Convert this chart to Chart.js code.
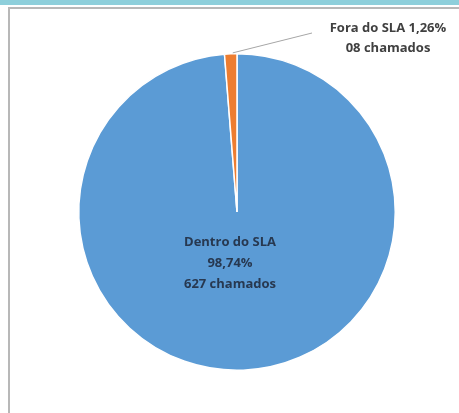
<!DOCTYPE html>
<html>
<head>
<meta charset="utf-8">
<script src="https://cdn.jsdelivr.net/npm/chart.js@4.4.1/dist/chart.umd.min.js"></script>
<style>
  html, body { margin: 0; padding: 0; background: #fff; }
  #wrap { position: relative; width: 459px; height: 413px; overflow: hidden; }
  #topbar { position: absolute; left: 0; top: 0; width: 459px; height: 5px; background: #8ecfdb; }
  #frame { position: absolute; left: 8px; top: 7px; width: 460px; height: 420px;
           border-left: 2px solid #b8b8b8; border-top: 2px solid #b8b8b8; }
  canvas { position: absolute; left: 0; top: 0; }
</style>
</head>
<body>
<div id="wrap">
  <div id="topbar"></div>
  <div id="frame"></div>
  <canvas id="chart" width="459" height="413"></canvas>
</div>
<script>
const categories = ["Dentro do SLA", "Fora do SLA"];
const chamados = [627, 8];
const sliceColors = ["#5b9bd5", "#ed7d31"];

const total = chamados.reduce((a, b) => a + b, 0);
const pct = (v) => (v / total * 100).toFixed(2).replace(".", ",") + "%";
const countText = (v) => String(v).padStart(2, "0") + " chamados";

const labelFont = 'bold 13px "Open Sans", "Noto Sans", sans-serif';

const sliceLabels = {
  id: "sliceLabels",
  afterDatasetsDraw(chart) {
    const ctx = chart.ctx;
    const arcs = chart.getDatasetMeta(0).data;
    ctx.save();
    ctx.font = labelFont;
    ctx.textAlign = "center";
    ctx.textBaseline = "middle";

    // big slice: label inside, below the centre
    const a0 = arcs[0];
    ctx.fillStyle = "#273850";
    const cx = a0.x - 7, cy = a0.y;
    ctx.fillText(categories[0], cx, cy + 30);
    ctx.fillText(pct(chamados[0]), cx, cy + 51);
    ctx.fillText(countText(chamados[0]), cx, cy + 72);

    // small slice: label outside with a leader line
    const a1 = arcs[1];
    const mid = (a1.startAngle + a1.endAngle) / 2;
    const px = a1.x + Math.cos(mid) * a1.outerRadius;
    const py = a1.y + Math.sin(mid) * a1.outerRadius;
    ctx.strokeStyle = "#a6a6a6";
    ctx.lineWidth = 1;
    ctx.beginPath();
    ctx.moveTo(px + 2, py - 1);
    ctx.lineTo(312, 33);
    ctx.stroke();

    ctx.fillStyle = "#404040";
    ctx.fillText(categories[1] + " " + pct(chamados[1]), 388, 28);
    ctx.fillText(countText(chamados[1]), 388, 48);
    ctx.restore();
  }
};

new Chart(document.getElementById("chart"), {
  type: "pie",
  data: {
    labels: categories,
    datasets: [{
      data: chamados,
      backgroundColor: sliceColors,
      borderColor: "#ffffff",
      borderWidth: 1.5
    }]
  },
  options: {
    responsive: false,
    animation: false,
    layout: { padding: { left: 78, right: 63, top: 53, bottom: 42 } },
    plugins: {
      legend: { display: false },
      tooltip: { enabled: false }
    }
  },
  plugins: [sliceLabels]
});
</script>
</body>
</html>
